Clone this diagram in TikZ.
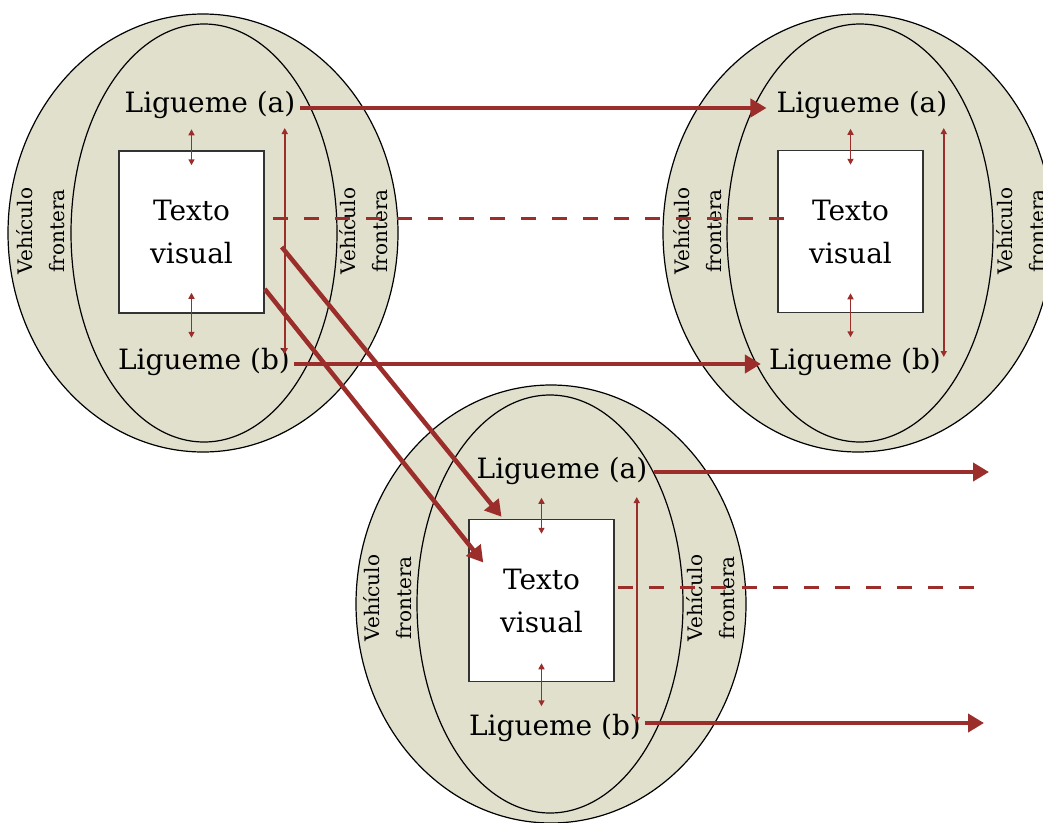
\documentclass[tikz,border=0pt]{standalone}
\usepackage{fontspec}
\setmainfont{DejaVu Serif}
\usetikzlibrary{shapes.geometric,arrows.meta}
\definecolor{fillc}{RGB}{224,224,204}
\definecolor{redc}{RGB}{155,45,42}
\begin{document}
\begin{tikzpicture}[x=1pt,y=-1pt,
 outer/.style={ellipse,draw=black,fill=fillc,line width=1.2pt,minimum width=390pt,minimum height=438pt,inner sep=0pt},
 innerell/.style={ellipse,draw=black,fill=fillc,line width=1.2pt,minimum width=266pt,minimum height=418pt,inner sep=0pt},
 tbox/.style={draw=black!80,fill=white,line width=1.5pt,minimum width=145pt,minimum height=162pt,inner sep=0pt,align=center,font=\fontsize{28}{43}\selectfont},
 lig/.style={font=\fontsize{28}{32}\selectfont,inner sep=0pt},
 veh/.style={rotate=90,align=center,font=\fontsize{20}{32}\selectfont,inner sep=0pt},
 thinarr/.style={draw=redc,line width=1.5pt,{Triangle[length=6pt,width=6pt]}-{Triangle[length=6pt,width=6pt]}},
 thickarr/.style={draw=redc,line width=4.5pt,-{Triangle[length=16pt,width=18pt]}},
 dashl/.style={draw=redc,line width=3pt,dash pattern=on 15pt off 16pt}
]
\useasboundingbox (0,0) rectangle (1043,822);
\clip (0,0) rectangle (1043,822);

% left group
\node[outer] (oL) at (203,233) {};
\node[innerell] (iL) at (204,233) {};
\node[tbox] (bL) at (191.5,232) {Texto\\visual};
\node[lig] (laL) at (210,105) {Ligueme (a)};
\node[lig] (lbL) at (204,362) {Ligueme (b)};
\node[veh] (v1L) at (41,231) {Vehículo\\frontera};
\node[veh] (v2L) at (364,231) {Vehículo\\frontera};

% right group
\node[outer] (oR) at (858,233) {};
\node[innerell] (iR) at (860,233) {};
\node[tbox] (bR) at (850.5,231.5) {Texto\\visual};
\node[lig] (laR) at (862,105) {Ligueme (a)};
\node[lig] (lbR) at (855,362) {Ligueme (b)};
\node[veh] (v1R) at (697.5,231) {Vehículo\\frontera};
\node[veh] (v2R) at (1021,231) {Vehículo\\frontera};

% bottom group
\node[outer] (oB) at (551,604) {};
\node[innerell] (iB) at (550,604) {};
\node[tbox] (bB) at (541.5,600.5) {Texto\\visual};
\node[lig] (laB) at (562,471) {Ligueme (a)};
\node[lig] (lbB) at (555,728) {Ligueme (b)};
\node[veh] (v1B) at (387.5,598) {Vehículo\\frontera};
\node[veh] (v2B) at (711,598) {Vehículo\\frontera};

% thin arrows
\draw[thinarr] ([shift={(0,-21)}]bL.north) -- ([shift={(0,15)}]bL.north);
\draw[thinarr] ([shift={(0,-21)}]bL.south) -- ([shift={(0,24)}]bL.south);
\draw[thinarr] ([shift={(20,-104)}]bL.east) -- ([shift={(20,122)}]bL.east);
\draw[thinarr] ([shift={(0,-21)}]bR.north) -- ([shift={(0,15)}]bR.north);
\draw[thinarr] ([shift={(0,-20)}]bR.south) -- ([shift={(0,24)}]bR.south);
\draw[thinarr] ([shift={(20,-103.5)}]bR.east) -- ([shift={(20,125.5)}]bR.east);
\draw[thinarr] ([shift={(0,-21)}]bB.north) -- ([shift={(0,15)}]bB.north);
\draw[thinarr] ([shift={(0,-19)}]bB.south) -- ([shift={(0,24)}]bB.south);
\draw[thinarr] ([shift={(22,-103.5)}]bB.east) -- ([shift={(22,122.5)}]bB.east);

% dashed
\coordinate (endD) at (986,587);
\draw[dashl] ([shift={(8,-14)}]bL.east) -- ([shift={(7,-13.5)}]bR.west);
\draw[dashl] ([shift={(3,-13.5)}]bB.east) -- (endD);

% thick arrows
\coordinate (endA) at (989,472);
\coordinate (endB) at (984,723);
\draw[thickarr] ([shift={(4,3)}]laL.east) -- ([shift={(-10,3)}]laR.west);
\draw[thickarr] ([shift={(4,2)}]lbL.east) -- ([shift={(-8,2)}]lbR.west);
\draw[thickarr] ([shift={(17,15)}]bL.east) -- ([shift={(-40,-2)}]bB.north);
\draw[thickarr] ([shift={(0,57)}]bL.east) -- ([shift={(15,-38)}]bB.west);
\draw[thickarr] ([shift={(6,1)}]laB.east) -- (endA);
\draw[thickarr] ([shift={(4,-5)}]lbB.east) -- (endB);
\end{tikzpicture}
\end{document}
